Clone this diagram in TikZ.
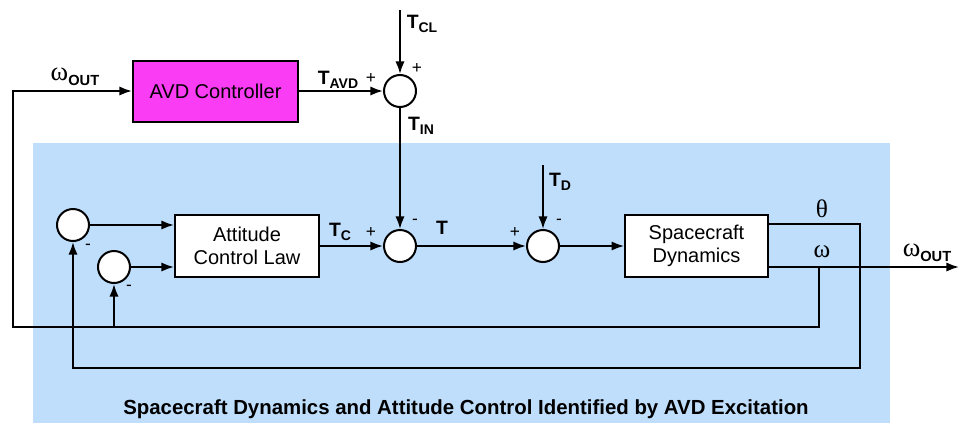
\documentclass[tikz,border=0pt]{standalone}
\usepackage{fontspec}
\setmainfont{Liberation Sans}
\newfontfamily\grk{Liberation Serif}
\usetikzlibrary{arrows.meta}
\definecolor{bgblue}{RGB}{191,222,252}
\definecolor{avdmag}{RGB}{250,60,245}
\newcommand\lbl[2]{#1\raisebox{-3.5pt}{\fontsize{10.5}{12}\selectfont\bfseries #2}}
\newcommand\wout{{\grk\fontsize{20}{22}\selectfont\symbol{"03C9}}\raisebox{-4pt}{\fontsize{11}{12}\selectfont\bfseries OUT}}
\begin{document}
\begin{tikzpicture}[x=0.75pt,y=-0.75pt,
  line width=1.5pt,
  arr/.style={-{Latex[length=9.5pt,width=7pt]}},
  blk/.style={draw, line width=1.5pt, fill=white, minimum width=#1, minimum height=47pt, align=center, font=\fontsize{15}{17.5}\selectfont, inner sep=0pt},
  sumn/.style={draw, circle, fill=white, minimum size=24pt, inner sep=0pt, line width=1.5pt},
  lab/.style={font=\fontsize{14.5}{16}\selectfont\bfseries, inner sep=0pt},
  sgn/.style={font=\fontsize{13}{15}\selectfont, inner sep=0pt},
  grl/.style={font=\fontsize{19}{21}\selectfont\grk, inner sep=0pt}
]
\useasboundingbox (0,0) rectangle (960,425);
\fill[bgblue] (33,143) rectangle (890,423);

% blocks
\node[blk=123.75pt, fill=avdmag, minimum height=45.75pt] (avd) at (215.5,91) {AVD Controller};
\node[blk=108pt] (acl) at (247,246) {Attitude\\Control Law};
\node[blk=107pt, minimum height=46.5pt] (sd) at (696.5,246) {Spacecraft\\Dynamics};

% summing junctions
\node[sumn] (s0) at (400,91) {};
\node[sumn] (s1) at (73,225) {};
\node[sumn] (s2) at (114,267) {};
\node[sumn] (s3) at (400,246) {};
\node[sumn] (s4) at (543,246) {};

% coordinates
\coordinate (tcl) at (400,10);
\coordinate (td) at (543,165);
\coordinate (thR) at (860,224);
\coordinate (thB) at (860,368);
\coordinate (wo) at (959,267);
\coordinate (wj) at (819,267);
\coordinate (fb) at (819,327);
\coordinate (lc) at (13,327);
\coordinate (lt) at (13,91);

% connectors
\draw[arr] (tcl) -- (s0.north);
\draw[arr] (avd.east) -- (s0.west);
\draw[arr] (s0.south) -- (s3.north);
\draw[arr] (s1.east) -- (s1.east -| acl.west);
\draw[arr] (s2.east) -- (s2.east -| acl.west);
\draw[arr] (acl.east) -- (s3.west);
\draw[arr] (s3.east) -- (s4.west);
\draw[arr] (td) -- (s4.north);
\draw[arr] (s4.east) -- (sd.west);
\draw[arr] (sd.east |- thR) -- (thR) -- (thB) -- (thB -| s1) -- (s1.south);
\draw[arr] (sd.east |- wo) -- (wo);
\draw[arr] (wj) -- (fb) -- (lc) -- (lt) -- (avd.west);
\draw[arr] (s2 |- fb) -- (s2.south);

% labels
\node[inner sep=0pt] (lwo1) at (75,77) {\wout};
\node[lab] (ltavd) at (338,80) {\lbl{T}{AVD}};
\node[sgn] (p1) at (371,78) {+};
\node[lab] (ltcl) at (422,24) {\lbl{T}{CL}};
\node[sgn] (p2) at (417,68) {+};
\node[lab] (ltin) at (421,126) {\lbl{T}{IN}};
\node[lab] (ltc) at (340,232) {\lbl{T}{C}};
\node[sgn] (p3) at (371,232) {+};
\node[sgn] (m1) at (415,222) {-};
\node[lab] (lt) at (442,228) {T};
\node[sgn] (p4) at (515,232) {+};
\node[lab] (ltd) at (560,182) {\lbl{T}{D}};
\node[sgn] (m2) at (559,222) {-};
\node[sgn] (m3) at (88,247) {-};
\node[sgn] (m4) at (129,288) {-};
\node[grl] (lth) at (822,209) {\symbol{"03B8}};
\node[grl] (lw) at (822,252) {\symbol{"03C9}};
\node[inner sep=0pt] (lwo2) at (927,253) {\wout};

\node[font=\fontsize{15.3}{17}\selectfont\bfseries, inner sep=0pt] (title) at (466,409) {Spacecraft Dynamics and Attitude Control Identified by AVD Excitation};
\end{tikzpicture}
\end{document}
